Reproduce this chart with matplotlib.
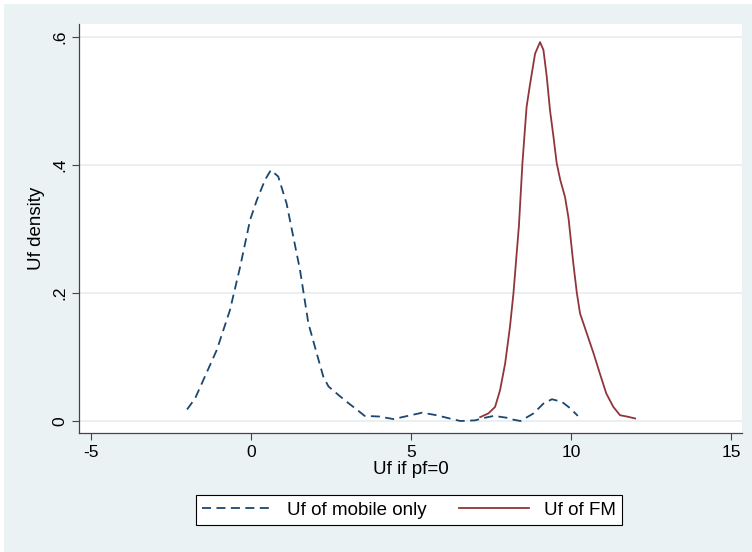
import numpy as np
import matplotlib
matplotlib.use("Agg")
import matplotlib.pyplot as plt
from matplotlib.patches import Rectangle

plt.rcParams['font.family'] = ['Liberation Sans', 'DejaVu Sans']
plt.rcParams['axes.unicode_minus'] = False

# density of Uf, mobile only
x_mob = [-2.0, -1.75, -1.49, -1.07, -0.66, -0.34, -0.03, 0.18, 0.44, 0.62, 0.85,
         1.11, 1.32, 1.53, 1.79, 2.05, 2.26, 2.42, 2.7, 2.99, 3.3, 3.55, 4.0,
         4.45, 4.9, 5.35, 5.8, 6.2, 6.54, 7.0, 7.3, 7.59, 8.0, 8.2, 8.42, 8.83, 9.13,
         9.4, 9.71, 9.97, 10.21]
y_mob = [0.018, 0.035, 0.064, 0.111, 0.173, 0.241, 0.314, 0.345, 0.377, 0.392, 0.382,
         0.34, 0.288, 0.236, 0.153, 0.106, 0.069, 0.054, 0.042, 0.030, 0.018, 0.008, 0.007,
         0.003, 0.008, 0.013, 0.009, 0.004, 0.0, 0.001, 0.005, 0.008, 0.005, 0.002, 0.0, 0.012, 0.027,
         0.034, 0.030, 0.020, 0.008]

# density of Uf, FM
x_fm = [7.16, 7.42, 7.625, 7.78, 7.94, 8.09, 8.2, 8.3, 8.37, 8.42, 8.48, 8.54, 8.61,
        8.72, 8.875, 9.03, 9.135, 9.24, 9.34, 9.45, 9.55, 9.66, 9.81, 9.92, 10.07,
        10.18, 10.28, 10.49, 10.7, 10.9, 11.1, 11.32, 11.53, 11.74, 12.0]
y_fm = [0.006, 0.012, 0.022, 0.048, 0.09, 0.147, 0.20, 0.262, 0.305, 0.35, 0.403, 0.444, 0.491,
        0.527, 0.574, 0.592, 0.580, 0.538, 0.486, 0.444, 0.403, 0.377, 0.35, 0.317, 0.246,
        0.20, 0.168, 0.137, 0.106, 0.074, 0.043, 0.022, 0.009, 0.007, 0.004]

xticks = [-5, 0, 5, 10, 15]
yticks = [0, 0.2, 0.4, 0.6]
ylabels = ['0', '.2', '.4', '.6']

navy = '#1a476f'
maroon = '#90353b'
bg = '#eaf2f3'

fig = plt.figure(figsize=(7.52, 5.52), dpi=100, facecolor='white')
fig.patches.append(Rectangle((4/752, -0.01), 1, 548/552 + 0.01, transform=fig.transFigure,
                             facecolor=bg, edgecolor='none', zorder=-10))

ax = fig.add_axes([79/752, 1-433/552, 663/752, 409/552])
ax.set_facecolor('white')

ax.plot(x_mob, y_mob, color=navy, lw=1.3, dashes=(5, 3), label='Uf of mobile only')
ax.plot(x_fm, y_fm, color=maroon, lw=1.3, label='Uf of FM')

ax.set_xlim(-5.375, 15.34)
ax.set_ylim(-0.01875, 0.6203)
ax.set_xticks(xticks)
ax.set_yticks(yticks)
ax.set_yticklabels(ylabels, rotation=90, va='center')
ax.tick_params(labelsize=12.5, length=5, color='#444444', width=0.8)
ax.yaxis.grid(True, color='#e6eef0', lw=1.2)
ax.set_axisbelow(True)
for s in ['top', 'right']:
    ax.spines[s].set_visible(False)
for s in ['left', 'bottom']:
    ax.spines[s].set_color('#444444')
    ax.spines[s].set_linewidth(0.9)

ax.set_xlabel('Uf if pf=0', fontsize=13.5, labelpad=1)
ax.set_ylabel('Uf density', fontsize=13.5, labelpad=5)

leg = fig.legend(loc='center', bbox_to_anchor=(409/752, 1-510/552), ncol=2,
                 fontsize=13.5, handlelength=3.73, handletextpad=0.8, columnspacing=1.7,
                 fancybox=False, edgecolor='black', framealpha=1, borderpad=0.35)
leg.get_frame().set_linewidth(0.8)

plt.savefig('out.png', dpi=100, facecolor=fig.get_facecolor())
